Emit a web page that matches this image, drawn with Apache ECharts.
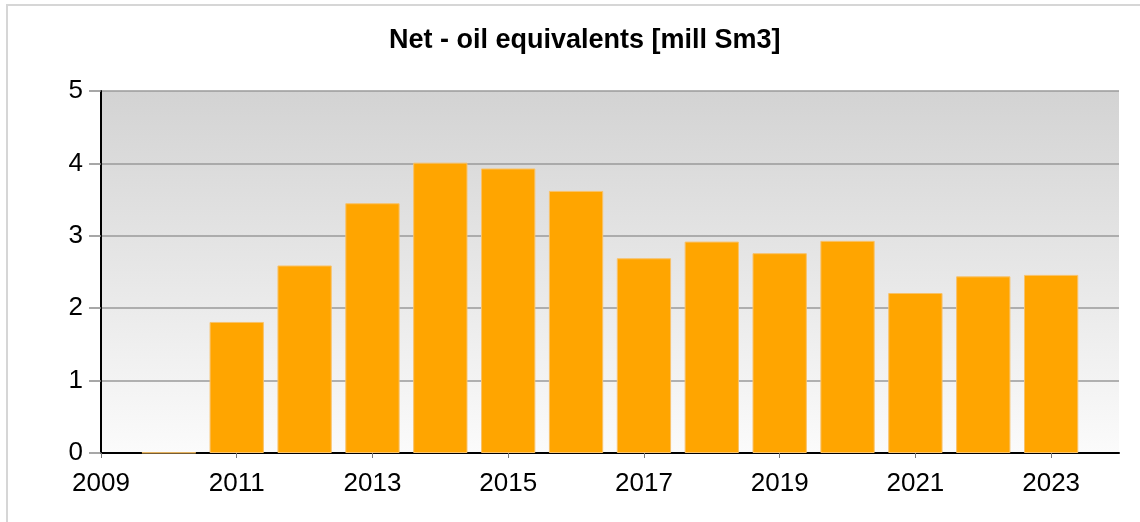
<!DOCTYPE html>
<html>
<head>
<meta charset="utf-8">
<script src="https://cdn.jsdelivr.net/npm/echarts@6/dist/echarts.min.js"></script>
<style>
  html, body { margin: 0; padding: 0; background: #fff; }
  #frame { position: absolute; left: 6px; top: 4px; width: 1200px; height: 600px;
           border-left: 2px solid #d6d6d6; border-top: 2px solid #d6d6d6; box-sizing: border-box; }
  #chart { position: absolute; left: 0; top: 0; width: 1140px; height: 522px; }
</style>
</head>
<body>
<div id="frame"></div>
<div id="chart"></div>
<script>
const years = ['2009','2010','2011','2012','2013','2014','2015','2016','2017','2018','2019','2020','2021','2022','2023','2024'];
const netOilEquivalents = [null, 0.006, 1.81, 2.59, 3.45, 4.01, 3.93, 3.62, 2.69, 2.92, 2.76, 2.93, 2.21, 2.44, 2.46, null];
const yTicks = [0, 1, 2, 3, 4, 5];
const titleText = 'Net - oil equivalents [mill Sm3]';

const chart = echarts.init(document.getElementById('chart'), null, { renderer: 'canvas' });
chart.setOption({
  animation: false,
  backgroundColor: 'transparent',
  title: {
    text: titleText,
    left: 384,
    top: 22,
    textStyle: { fontFamily: 'Liberation Sans, Arial, sans-serif', fontWeight: 'bold', fontSize: 27, color: '#000' }
  },
  grid: {
    left: 101, right: 21, top: 91, bottom: 69,
    show: true,
    borderWidth: 0,
    backgroundColor: new echarts.graphic.LinearGradient(0, 0, 0, 1, [
      { offset: 0, color: '#d3d3d3' },
      { offset: 1, color: '#fbfbfb' }
    ])
  },
  xAxis: {
    type: 'category',
    data: years,
    boundaryGap: false,
    axisLine: { show: true, lineStyle: { color: '#000', width: 2 } },
    axisTick: { show: true, interval: 1, length: 5, lineStyle: { color: '#777', width: 1 } },
    axisLabel: {
      interval: 1,
      margin: 18,
      fontFamily: 'Liberation Sans, Arial, sans-serif',
      fontSize: 26,
      color: '#000',
      formatter: v => (v === '2024' ? '' : v)
    },
    splitLine: { show: false }
  },
  yAxis: {
    type: 'value',
    min: yTicks[0],
    max: yTicks[yTicks.length - 1],
    interval: 1,
    axisLine: { show: true, lineStyle: { color: '#000', width: 2 } },
    axisTick: { show: true, length: 12, lineStyle: { color: '#8a8a8a', width: 1.5 } },
    axisLabel: {
      margin: 18,
      fontFamily: 'Liberation Sans, Arial, sans-serif',
      fontSize: 26,
      color: '#000'
    },
    splitLine: { show: true, lineStyle: { color: '#9a9a9a', width: 1.5 } }
  },
  series: [{
    type: 'bar',
    data: netOilEquivalents,
    barWidth: '80%',
    itemStyle: { color: '#ffa500', borderColor: '#f8c26a', borderWidth: 1 },
    emphasis: { disabled: true }
  }]
});
</script>
</body>
</html>
